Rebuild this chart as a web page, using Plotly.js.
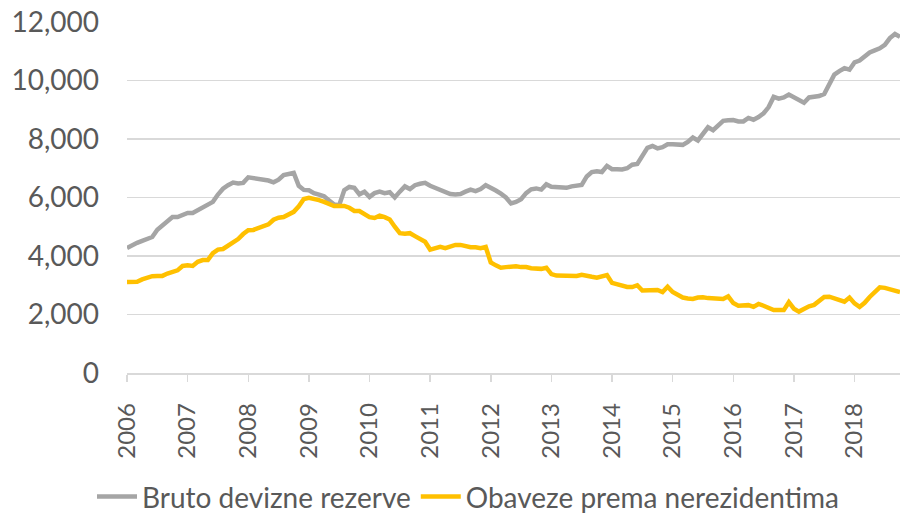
<!DOCTYPE html>
<html>
<head>
<meta charset="utf-8">
<script src="https://cdn.plot.ly/plotly-3.0.1.min.js"></script>
<style>html,body{margin:0;padding:0;background:#fff;}#chart{width:900px;height:516px;}</style>
</head>
<body>
<div id="chart"></div>
<script>
// Monthly data, Jan 2006 - Oct 2018
const startYear = 2006;
const seriesNames = ["Bruto devizne rezerve", "Obaveze prema nerezidentima"];
const yearTicks = [2006,2007,2008,2009,2010,2011,2012,2013,2014,2015,2016,2017,2018];
const yTicks = [0,2000,4000,6000,8000,10000,12000];
const yTickLabels = ["0","2,000","4,000","6,000","8,000","10,000","12,000"];

const brutoRezerve = [
 4270,4380,4450,4520,4580,4650,4900,5050,5160,5330,5330,5400,
 5470,5470,5560,5650,5760,5850,6100,6300,6420,6510,6480,6500,
 6690,6670,6620,6600,6580,6520,6610,6770,6820,6840,6400,6260,
 6250,6150,6100,6040,5900,5760,5740,6250,6360,6330,6110,6200,
 6020,6150,6200,6150,6180,6000,6200,6380,6290,6420,6470,6500,
 6400,6330,6260,6150,6120,6100,6120,6200,6270,6220,6290,6420,
 6350,6240,6130,6000,5800,5850,5940,6150,6280,6310,6270,6450,
 6370,6360,6360,6330,6380,6400,6430,6720,6870,6900,6870,7080,
 6970,6970,6960,7000,7120,7150,7450,7700,7760,7680,7720,7820,
 7820,7800,7800,7900,8050,7950,8150,8400,8300,8450,8620,8640,
 8650,8600,8600,8720,8660,8750,8880,9090,9440,9380,9420,9520,
 9420,9350,9240,9420,9450,9470,9540,9900,10200,10320,10420,10370,
 10620,10680,10800,10960,11030,11100,11220,11450,11590,11490
];
const obavezeNerez = [
 3110,3110,3120,3200,3260,3310,3320,3320,3400,3470,3510,3660,
 3680,3660,3800,3860,3860,4100,4220,4240,4360,4470,4580,4750,
 4880,4890,4960,5020,5080,5240,5310,5330,5430,5510,5700,5950,
 5990,5960,5910,5850,5780,5710,5710,5710,5650,5540,5540,5450,
 5330,5300,5380,5330,5250,5000,4780,4760,4780,4680,4580,4490,
 4220,4280,4310,4270,4340,4380,4380,4330,4300,4300,4270,4310,
 3780,3680,3600,3620,3630,3650,3620,3620,3580,3560,3560,3600,
 3380,3330,3320,3320,3320,3320,3360,3340,3290,3260,3290,3350,
 3080,3030,2950,2940,2940,3000,2820,2830,2860,2840,2770,2950,
 2770,2680,2580,2550,2530,2580,2590,2560,2540,2530,2530,2620,
 2390,2300,2300,2320,2260,2360,2300,2210,2150,2150,2150,2420,
 2200,2100,2200,2280,2330,2480,2600,2610,2550,2520,2440,2580,
 2380,2260,2400,2600,2760,2930,2910,2870,2800,2770
];

const xVals = brutoRezerve.map((_, i) => startYear + i / 12);

const traces = [
  {x: xVals, y: brutoRezerve, name: seriesNames[0], type: "scatter", mode: "lines",
   line: {color: "#a5a5a5", width: 4.5}},
  {x: xVals, y: obavezeNerez, name: seriesNames[1], type: "scatter", mode: "lines",
   line: {color: "#ffc000", width: 4.5}}
];

const font = "Lato, 'Open Sans', sans-serif";
const layout = {
  width: 900, height: 516,
  margin: {l: 127, r: 0, t: 22, b: 143},
  paper_bgcolor: "#fff", plot_bgcolor: "#fff",
  showlegend: true,
  legend: {orientation: "h", xref: "container", yref: "container", x: 0.52, y: 0.037,
           xanchor: "center", yanchor: "middle", font: {family: font, size: 28, color: "#595959"},
           itemwidth: 40, tracegroupgap: 0},
  xaxis: {range: [startYear, startYear + (brutoRezerve.length - 1) / 12], tickmode: "array",
          tickvals: yearTicks, ticktext: yearTicks.map(String), tickangle: -90,
          ticks: "outside", ticklen: 7, tickcolor: "#d9d9d9", tickwidth: 1.5,
          showline: true, linecolor: "#d9d9d9", linewidth: 1.5, showgrid: false, zeroline: false,
          tickfont: {family: font, size: 24, color: "#595959"}, ticklabelstandoff: 12},
  yaxis: {range: [0, 12000], tickmode: "array", tickvals: yTicks, ticktext: yTickLabels,
          showgrid: true, gridcolor: "#d9d9d9", gridwidth: 1.5, zeroline: false, showline: false,
          tickfont: {family: font, size: 28, color: "#595959"}, ticklabelstandoff: 27}
};

Plotly.newPlot("chart", traces, layout, {displayModeBar: false, staticPlot: true});
</script>
</body>
</html>
